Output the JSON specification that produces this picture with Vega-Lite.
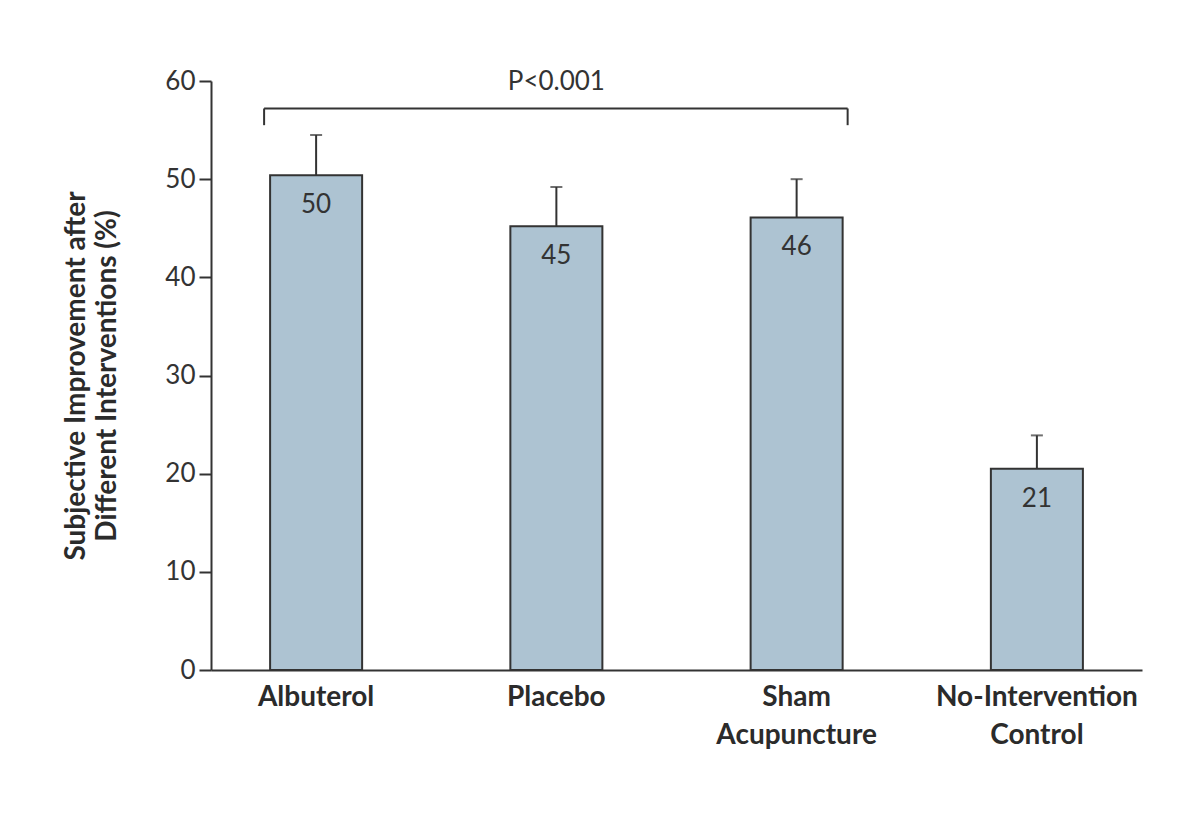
{
  "$schema": "https://vega.github.io/schema/vega-lite/v6.json",
  "width": 931,
  "height": 589,
  "autosize": {"type": "none"},
  "padding": {"left": 211, "top": 81, "right": 58, "bottom": 144},
  "background": "white",
  "config": {
    "view": {"stroke": null},
    "font": "Lato",
    "text": {"font": "Lato"}
  },
  "datasets": {
    "bars": [
      {"name": "Albuterol", "value": 50.4, "upper": 54.5, "label": "50"},
      {"name": "Placebo", "value": 45.2, "upper": 49.2, "label": "45"},
      {"name": "Sham|Acupuncture", "value": 46.1, "upper": 50.0, "label": "46"},
      {"name": "No-Intervention|Control", "value": 20.5, "upper": 23.9, "label": "21"}
    ],
    "bracket": [
      {"from": "Albuterol", "to": "Sham|Acupuncture", "mid": "Placebo", "top": 57.2, "foot": 55.5, "text": "P<0.001"}
    ]
  },
  "layer": [
    {
      "data": {"name": "bars"},
      "mark": {"type": "rule", "stroke": "#333333", "strokeWidth": 2},
      "encoding": {
        "x": {"field": "name", "type": "nominal", "sort": null,
          "scale": {"paddingInner": 0.617, "paddingOuter": 0.246},
          "axis": {
            "title": null,
            "labelExpr": "split(datum.label, '|')",
            "labelAngle": 0,
            "labelFont": "Lato",
            "labelFontSize": 28,
            "labelFontWeight": "bold",
            "labelColor": "#2b2b2b",
            "labelPadding": 13,
            "labelLineHeight": 38,
            "labelBaseline": "top",
            "labelLimit": 400,
            "ticks": false,
            "domainColor": "#333333",
            "domainWidth": 2
          }
        },
        "y": {"field": "value", "type": "quantitative",
          "scale": {"domain": [0, 60], "nice": false},
          "axis": {
            "title": ["Subjective Improvement after", "Different Interventions (%)"],
            "titleFont": "Lato",
            "titleFontSize": 28,
            "titleFontWeight": "bold",
            "titleColor": "#2b2b2b",
            "titleLineHeight": 31,
            "titlePadding": 43,
            "values": [0, 10, 20, 30, 40, 50, 60],
            "grid": false,
            "tickSize": 12,
            "tickWidth": 2,
            "tickColor": "#333333",
            "domainColor": "#333333",
            "domainWidth": 2,
            "labelFont": "Lato",
            "labelFontSize": 26,
            "labelColor": "#333333",
            "labelPadding": 4
          }
        },
        "y2": {"field": "upper"}
      }
    },
    {
      "data": {"name": "bars"},
      "mark": {"type": "tick", "color": "#333333", "size": 12, "thickness": 2, "orient": "horizontal"},
      "encoding": {
        "x": {"field": "name", "type": "nominal", "sort": null},
        "y": {"field": "upper", "type": "quantitative"}
      }
    },
    {
      "data": {"name": "bars"},
      "mark": {"type": "bar", "fill": "#adc3d2", "stroke": "#333333", "strokeWidth": 2},
      "encoding": {
        "x": {"field": "name", "type": "nominal", "sort": null},
        "y": {"field": "value", "type": "quantitative"}
      }
    },
    {
      "data": {"name": "bars"},
      "mark": {"type": "text", "fontSize": 26, "color": "#333333", "baseline": "top", "dy": 17},
      "encoding": {
        "x": {"field": "name", "type": "nominal", "sort": null},
        "y": {"field": "value", "type": "quantitative"},
        "text": {"field": "label"}
      }
    },
    {
      "data": {"name": "bracket"},
      "mark": {"type": "rule", "stroke": "#333333", "strokeWidth": 2, "xOffset": -6, "x2Offset": 5},
      "encoding": {
        "x": {"field": "from", "type": "nominal", "sort": null, "bandPosition": 0},
        "x2": {"field": "to", "bandPosition": 1},
        "y": {"field": "top", "type": "quantitative"}
      }
    },
    {
      "data": {"name": "bracket"},
      "mark": {"type": "rule", "stroke": "#333333", "strokeWidth": 2, "xOffset": -6},
      "encoding": {
        "x": {"field": "from", "type": "nominal", "sort": null, "bandPosition": 0},
        "y": {"field": "top", "type": "quantitative"},
        "y2": {"field": "foot"}
      }
    },
    {
      "data": {"name": "bracket"},
      "mark": {"type": "rule", "stroke": "#333333", "strokeWidth": 2, "xOffset": 5},
      "encoding": {
        "x": {"field": "to", "type": "nominal", "sort": null, "bandPosition": 1},
        "y": {"field": "top", "type": "quantitative"},
        "y2": {"field": "foot"}
      }
    },
    {
      "data": {"name": "bracket"},
      "mark": {"type": "text", "fontSize": 26, "color": "#333333", "baseline": "bottom", "dy": -13},
      "encoding": {
        "x": {"field": "mid", "type": "nominal", "sort": null},
        "y": {"field": "top", "type": "quantitative"},
        "text": {"field": "text"}
      }
    }
  ]
}
